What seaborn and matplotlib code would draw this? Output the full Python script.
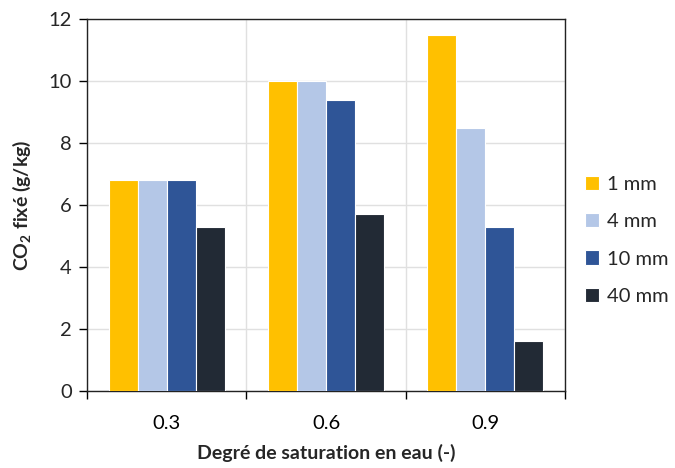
import matplotlib
matplotlib.use("Agg")
import matplotlib.pyplot as plt
import seaborn as sns
import pandas as pd
from matplotlib.ticker import FixedLocator

categories = ["0.3", "0.6", "0.9"]
series_names = ["1 mm", "4 mm", "10 mm", "40 mm"]
values_1mm = [6.8, 10.0, 11.5]
values_4mm = [6.8, 10.0, 8.5]
values_10mm = [6.8, 9.4, 5.3]
values_40mm = [5.3, 5.7, 1.6]
colors = ["#FFC000", "#B4C7E7", "#2F5597", "#222A35"]

rows = []
for name, vals in zip(series_names, [values_1mm, values_4mm, values_10mm, values_40mm]):
    for c, v in zip(categories, vals):
        rows.append({"cat": c, "serie": name, "val": v})
df = pd.DataFrame(rows)

sns.set_theme(style="white")
plt.rcParams['font.family'] = ['Lato', 'DejaVu Sans']
plt.rcParams['mathtext.fontset'] = 'custom'
plt.rcParams['mathtext.rm'] = 'Lato'
plt.rcParams['mathtext.bf'] = 'Lato:bold'

fig = plt.figure(figsize=(6.75, 4.68), dpi=100)
ax = fig.add_axes([0.129, 0.1645, 0.708, 0.7945])

sns.barplot(data=df, x="cat", y="val", hue="serie", order=categories,
            hue_order=series_names, palette=colors, width=0.73, saturation=1,
            edgecolor="white", linewidth=0.8, ax=ax, zorder=3)

ax.set_xlim(-0.5, 2.5)
ax.set_ylim(0, 12)
ax.set_yticks([0, 2, 4, 6, 8, 10, 12])
ax.yaxis.grid(True, color="#E0E0E0", linewidth=1, zorder=0)
ax.xaxis.set_minor_locator(FixedLocator([-0.5, 0.5, 1.5, 2.5]))
ax.xaxis.grid(True, which="minor", color="#E0E0E0", linewidth=1, zorder=0)
ax.xaxis.grid(False, which="major")
ax.set_axisbelow(True)
ax.tick_params(axis="x", which="major", length=0, pad=17, labelsize=14.5, colors="#000000")
ax.tick_params(axis="x", which="minor", length=6, width=1, color="#000000", direction="out", bottom=True)
ax.tick_params(axis="y", length=6, width=1, color="#000000", direction="out", left=True, labelsize=14.5, pad=5)

for s in ax.spines.values():
    s.set_visible(True)
    s.set_color("#222222")
    s.set_linewidth(1.0)

ax.set_xlabel("Degré de saturation en eau (-)", fontsize=14, fontweight="bold", labelpad=9)
ax.set_ylabel(r"CO$_\mathbf{2}$ fixé (g/kg)", fontsize=14, fontweight="bold", labelpad=11)

leg = ax.legend(loc="center left", bbox_to_anchor=(1.042, 0.405), frameon=False,
                fontsize=14.5, handlelength=0.7, handleheight=0.7, handletextpad=0.4,
                labelspacing=1.0, borderpad=0, borderaxespad=0)

fig.savefig("out.png", dpi=100)
